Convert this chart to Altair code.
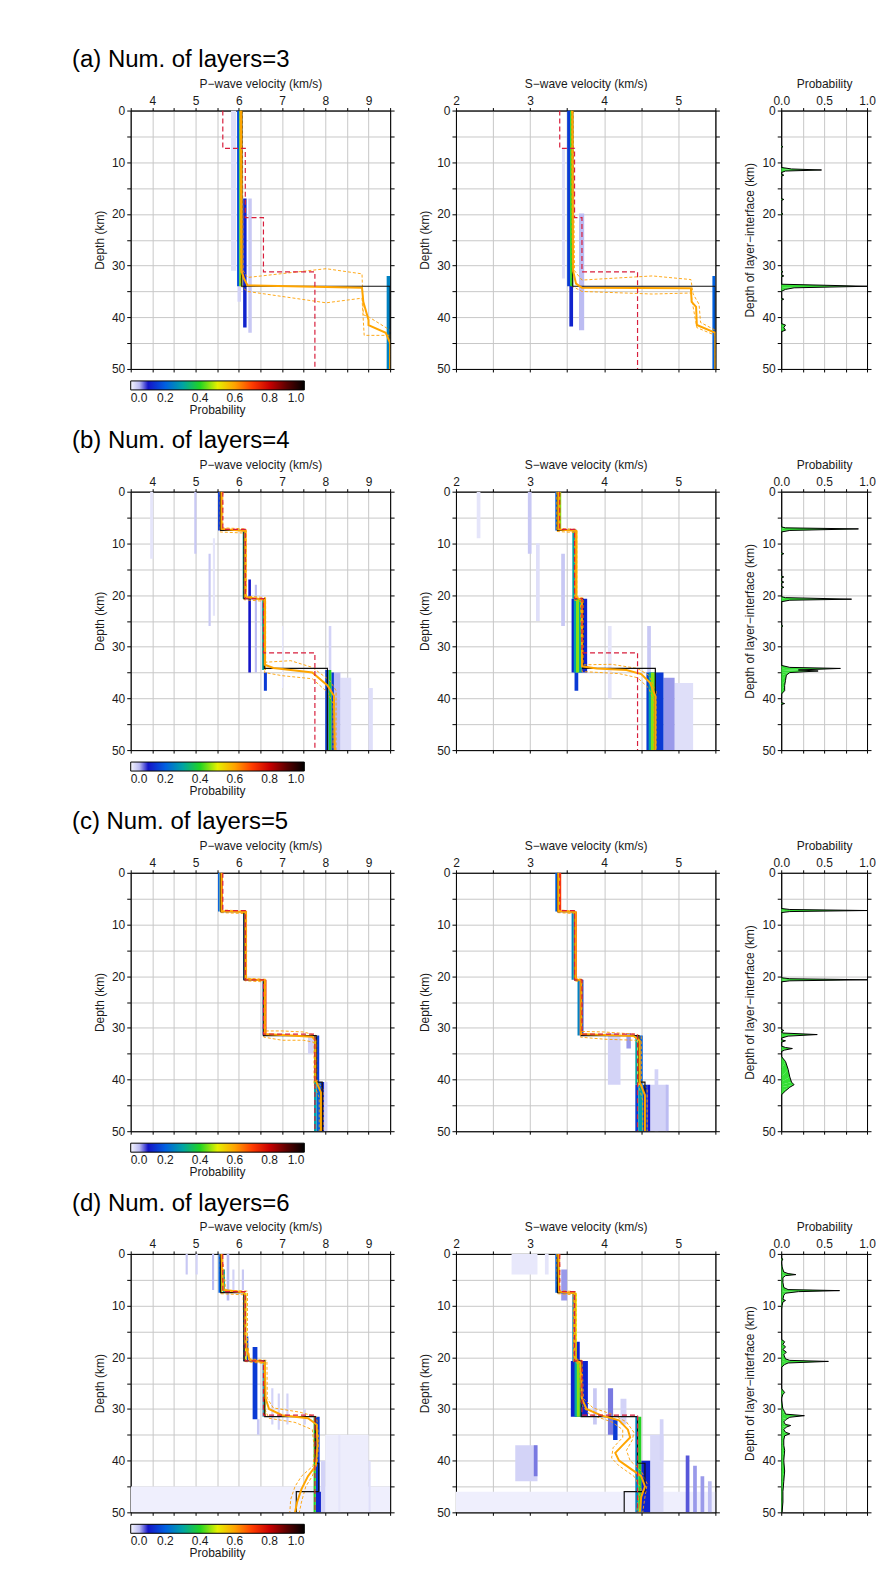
import altair as alt
import pandas as pd

FONT = "Liberation Sans"
TXT = "#1a1a1a"

# ---------------- axes / scales ----------------
P_DOMAIN = [3.5, 9.5]
S_DOMAIN = [2.0, 5.5]
Z_DOMAIN = [0, 50]
P_TICKS = [3.5, 4.0, 4.5, 5.0, 5.5, 6.0, 6.5, 7.0, 7.5, 8.0, 8.5, 9.0, 9.5]
S_TICKS = [2.0, 2.5, 3.0, 3.5, 4.0, 4.5, 5.0, 5.5]
Z_TICKS = [0, 5, 10, 15, 20, 25, 30, 35, 40, 45, 50]
PR_TICKS = [0.0, 0.25, 0.5, 0.75, 1.0]

PROB_STOPS = [0.0, 0.05, 0.1, 0.2, 0.3, 0.4, 0.5, 0.6, 0.7, 0.8, 0.9, 1.0]
PROB_COLORS = ["#f6f6fe", "#bcbcf2", "#1414c8", "#0060e0", "#00a4a4", "#22d422",
               "#e6f000", "#ffa200", "#ff3c00", "#c80000", "#5a0000", "#000000"]
LEGEND_VALUES = [0.0, 0.2, 0.4, 0.6, 0.8, 1.0]

ROW_TITLES = ["(a) Num. of layers=3", "(b) Num. of layers=4",
              "(c) Num. of layers=5", "(d) Num. of layers=6"]

# reference model (red dashed)
REF_P = [5.63, 6.15, 6.57, 7.76]
REF_S = [3.40, 3.60, 3.70, 4.45]
REF_Z = [7.3, 20.7, 31.2]

# best models (black): layer velocities and interface depths
A_BEST_P = [6.07, 9.5]
A_BEST_S = [3.575, 5.5]
A_BEST_Z = [34.0]
B_BEST_P = [5.58, 6.12, 6.59, 8.05]
B_BEST_S = [3.37, 3.62, 3.71, 4.69]
B_BEST_Z = [7.5, 20.7, 34.2]
C_BEST_P = [5.58, 6.12, 6.57, 7.79, 7.93]
C_BEST_S = [3.37, 3.60, 3.69, 4.47, 4.55]
C_BEST_Z = [7.5, 20.7, 31.5, 40.5]
D_BEST_P = [5.58, 6.12, 6.60, 7.77, 7.85, 7.33]
D_BEST_S = [3.37, 3.60, 3.69, 4.45, 4.55, 4.27]
D_BEST_Z = [7.5, 20.7, 31.5, 40.5, 46.0]

# mean (orange solid) and mean +/- std (orange dashed): (velocity, depth)
A_P_MEAN = [(6.05, 0), (6.06, 31), (6.12, 32.5), (6.2, 33.8), (8.85, 34.3), (8.88, 37), (9.0, 40.5), (9.0, 41.5), (9.4, 43), (9.5, 45), (9.5, 50)]
A_P_UP = [(6.08, 0), (6.1, 31), (6.2, 32.3), (8.02, 30.6), (8.85, 31.6), (8.88, 39.5), (9.02, 40), (9.5, 42.5), (9.5, 50)]
A_P_LO = [(6.03, 0), (6.05, 34), (6.2, 35), (8.02, 37.2), (8.85, 36.3), (8.9, 43.5), (9.5, 43.5), (9.5, 50)]
A_S_MEAN = [(3.57, 0), (3.58, 31), (3.62, 33.5), (3.7, 34.3), (5.17, 34.4), (5.18, 37), (5.24, 38), (5.25, 41.5), (5.5, 43), (5.5, 50)]
A_S_UP = [(3.58, 0), (3.6, 31), (3.7, 32.8), (4.65, 32.0), (5.17, 32.7), (5.2, 35.5), (5.28, 37.5), (5.3, 41), (5.5, 42.5), (5.5, 50)]
A_S_LO = [(3.56, 0), (3.57, 34), (3.7, 35), (4.65, 35.5), (5.17, 35.3), (5.2, 38), (5.25, 42), (5.5, 43.5), (5.5, 50)]

B_P_MEAN = [(5.6, 0), (5.6, 7.2), (6.15, 7.6), (6.15, 20.4), (6.6, 20.9), (6.6, 33.5), (6.8, 34.1), (7.7, 35.0), (8.05, 37.5), (8.2, 39.5), (8.22, 50)]
B_P_UP = [(5.63, 0), (5.63, 7.0), (6.17, 7.2), (6.17, 20.2), (6.62, 20.5), (6.62, 33), (7.2, 32.7), (7.7, 34), (8.1, 36.5), (8.25, 38.5), (8.25, 50)]
B_P_LO = [(5.57, 0), (5.57, 7.8), (6.12, 8.0), (6.12, 20.9), (6.57, 21.2), (6.6, 35), (7.0, 35.6), (7.7, 36.2), (8.05, 38.8), (8.18, 41), (8.18, 50)]
B_S_MEAN = [(3.38, 0), (3.38, 7.3), (3.62, 7.6), (3.62, 20.5), (3.7, 20.9), (3.7, 33.8), (3.9, 34.2), (4.3, 34.5), (4.5, 35.3), (4.62, 37), (4.69, 39.5), (4.69, 50)]
B_S_UP = [(3.4, 0), (3.4, 7.1), (3.63, 7.3), (3.63, 20.3), (3.72, 20.6), (3.72, 33.5), (4.1, 33.4), (4.45, 34.2), (4.6, 35.5), (4.7, 38.5), (4.7, 50)]
B_S_LO = [(3.36, 0), (3.36, 7.7), (3.6, 7.9), (3.6, 21), (3.68, 21.2), (3.7, 34.8), (4.2, 35.2), (4.45, 36), (4.6, 38), (4.67, 40.5), (4.67, 50)]

C_P_MEAN = [(5.6, 0), (5.6, 7.4), (6.16, 7.6), (6.16, 20.6), (6.6, 20.8), (6.6, 31.2), (7.7, 31.7), (7.77, 32.5), (7.77, 40), (7.9, 42.5), (7.9, 50)]
C_P_UP = [(5.62, 0), (5.62, 7.2), (6.18, 7.4), (6.18, 20.4), (6.62, 20.6), (6.62, 30.6), (7.0, 30.6), (7.5, 30.8), (7.8, 31.5), (7.8, 40), (7.95, 42), (7.95, 50)]
C_P_LO = [(5.58, 0), (5.58, 7.7), (6.14, 7.9), (6.14, 20.9), (6.58, 21.1), (6.58, 31.8), (7.0, 32.4), (7.5, 32.4), (7.74, 32.8), (7.74, 41), (7.86, 43.5), (7.86, 50)]
C_S_MEAN = [(3.38, 0), (3.38, 7.4), (3.61, 7.6), (3.61, 20.6), (3.69, 20.8), (3.69, 31.2), (4.4, 31.6), (4.48, 32.5), (4.48, 40.5), (4.55, 43), (4.55, 50)]
C_S_UP = [(3.39, 0), (3.39, 7.2), (3.62, 7.4), (3.62, 20.4), (3.7, 20.6), (3.7, 30.7), (4.0, 30.8), (4.4, 31.2), (4.5, 31.6), (4.5, 40), (4.58, 42), (4.58, 50)]
C_S_LO = [(3.37, 0), (3.37, 7.7), (3.6, 7.9), (3.6, 20.9), (3.68, 21.1), (3.68, 31.8), (4.0, 32.2), (4.42, 32.4), (4.46, 33), (4.46, 41), (4.52, 44), (4.52, 50)]

D_P_MEAN = [(5.6, 0), (5.62, 4), (5.65, 7), (6.1, 7.4), (6.15, 8), (6.15, 17), (6.2, 19), (6.25, 20.5), (6.6, 21), (6.62, 28), (6.7, 30), (7.0, 31.2), (7.6, 31.8), (7.8, 33), (7.82, 37), (7.78, 41), (7.6, 43), (7.45, 45.5), (7.35, 48), (7.3, 50)]
D_P_UP = [(5.62, 0), (5.66, 4), (5.7, 7), (6.2, 7.2), (6.2, 17), (6.25, 20.3), (6.65, 20.6), (6.66, 28), (6.8, 29.8), (7.4, 30.6), (7.8, 31.5), (7.85, 36), (7.82, 40), (7.7, 43), (7.55, 45), (7.45, 48), (7.4, 50)]
D_P_LO = [(5.57, 0), (5.58, 7.7), (6.1, 7.9), (6.12, 20.8), (6.58, 21.2), (6.6, 30), (6.7, 31.8), (7.3, 32.6), (7.7, 34), (7.75, 38), (7.72, 41), (7.45, 43), (7.3, 45), (7.2, 47.5), (7.18, 50)]
D_S_MEAN = [(3.38, 0), (3.39, 7.3), (3.6, 7.6), (3.6, 20.5), (3.68, 21), (3.7, 28), (3.76, 30), (3.95, 31.2), (4.2, 32.2), (4.32, 34), (4.35, 35.5), (4.25, 37), (4.15, 38.5), (4.2, 40), (4.35, 41.5), (4.5, 43), (4.55, 45), (4.5, 47), (4.48, 50)]
D_S_UP = [(3.4, 0), (3.4, 7.1), (3.62, 7.3), (3.62, 20.3), (3.7, 20.6), (3.72, 28), (3.85, 29.8), (4.1, 31), (4.3, 32.5), (4.4, 34.5), (4.38, 36), (4.3, 38), (4.35, 40), (4.5, 42), (4.58, 44.5), (4.55, 47), (4.52, 50)]
D_S_LO = [(3.36, 0), (3.37, 7.7), (3.58, 7.9), (3.59, 20.9), (3.67, 21.3), (3.68, 29), (3.8, 31), (4.1, 32.5), (4.25, 34), (4.25, 35.5), (4.12, 37.5), (4.1, 39.5), (4.2, 41), (4.4, 43), (4.5, 45.5), (4.45, 48), (4.44, 50)]

# posterior probability cells: (v_left, v_right, z_top, z_bottom, probability)
A_P_CELLS = [(5.82, 5.94, 0, 31, 0.02), (5.96, 6.01, 0, 34, 0.18), (6.01, 6.05, 0, 34, 0.42),
             (6.05, 6.08, 0, 34, 0.55), (6.1, 6.18, 17, 42, 0.12), (6.22, 6.3, 17, 43, 0.04),
             (5.97, 6.05, 34, 37, 0.03), (9.42, 9.5, 32, 50, 0.25)]
A_S_CELLS = [(3.43, 3.47, 7.3, 32.5, 0.02), (3.5, 3.54, 0, 34, 0.15), (3.54, 3.58, 0, 34, 0.4),
             (3.53, 3.58, 33.7, 41.8, 0.12), (3.66, 3.73, 19.9, 42.5, 0.05), (5.46, 5.5, 32, 50, 0.2)]
B_P_CELLS = [(3.95, 4.02, 0, 13, 0.015), (4.97, 5.02, 0, 12, 0.04), (5.3, 5.35, 12, 26, 0.04),
             (5.4, 5.45, 9, 24, 0.015), (5.52, 5.58, 0, 7.5, 0.15), (5.58, 5.62, 0, 7.5, 0.5),
             (6.09, 6.14, 7.5, 20.7, 0.3), (6.14, 6.18, 7.5, 20.7, 0.6), (6.54, 6.59, 20.7, 34.5, 0.3),
             (6.59, 6.63, 20.7, 34.5, 0.6), (6.22, 6.28, 17, 35, 0.1), (6.37, 6.42, 18, 35, 0.05),
             (6.5, 6.55, 20, 26, 0.03), (6.58, 6.65, 35, 38.5, 0.15), (7.0, 7.03, 26, 38, 0.015),
             (8.0, 8.08, 34.5, 50, 0.15), (8.08, 8.14, 34.5, 50, 0.4), (8.14, 8.2, 35, 50, 0.15),
             (8.2, 8.35, 35, 50, 0.05), (8.35, 8.6, 36, 50, 0.02), (8.08, 8.14, 26, 34.5, 0.03),
             (9.0, 9.1, 38, 50, 0.02)]
B_S_CELLS = [(2.28, 2.33, 0, 9, 0.015), (2.97, 3.02, 0, 12, 0.04), (3.08, 3.13, 10, 25, 0.02),
             (3.42, 3.47, 12, 26, 0.04), (3.34, 3.38, 0, 7.5, 0.2), (3.38, 3.42, 0, 7.5, 0.45),
             (3.57, 3.61, 7.5, 20.7, 0.3), (3.61, 3.64, 7.5, 20.7, 0.55), (3.56, 3.77, 20.7, 35, 0.12),
             (3.59, 3.7, 20.7, 35, 0.3), (3.62, 3.66, 20.7, 35, 0.45), (3.6, 3.65, 35, 38.5, 0.15),
             (4.05, 4.1, 26, 40, 0.015), (4.58, 4.63, 26, 35, 0.04), (4.57, 4.8, 35, 50, 0.15),
             (4.6, 4.7, 35, 50, 0.3), (4.63, 4.68, 35, 50, 0.45), (4.8, 4.95, 36, 50, 0.06),
             (4.95, 5.2, 37, 50, 0.02)]
C_P_CELLS = [(5.52, 5.56, 0, 7.5, 0.2), (5.56, 5.6, 0, 7.5, 0.5), (5.6, 5.63, 0, 7.5, 0.75),
             (6.1, 6.13, 7.5, 20.7, 0.2), (6.13, 6.16, 7.5, 20.7, 0.45), (6.16, 6.18, 7.5, 20.7, 0.75),
             (6.55, 6.58, 20.7, 31.5, 0.2), (6.58, 6.61, 20.7, 31.5, 0.45), (6.61, 6.64, 20.7, 31.5, 0.75),
             (7.6, 7.75, 31.5, 35, 0.03), (7.74, 7.78, 31.5, 40.5, 0.4), (7.78, 7.86, 31.5, 40.5, 0.15),
             (7.74, 7.8, 40.5, 50, 0.3), (7.8, 7.9, 40.5, 50, 0.2), (7.9, 7.97, 40.5, 50, 0.12),
             (7.97, 8.05, 40.5, 50, 0.03)]
C_S_CELLS = [(3.34, 3.37, 0, 7.5, 0.2), (3.37, 3.4, 0, 7.5, 0.45), (3.4, 3.42, 0, 7.5, 0.7),
             (3.56, 3.59, 7.5, 20.7, 0.25), (3.59, 3.61, 7.5, 20.7, 0.5), (3.61, 3.63, 7.5, 20.7, 0.7),
             (3.64, 3.67, 20.7, 31.5, 0.25), (3.67, 3.69, 20.7, 31.5, 0.7), (3.69, 3.72, 20.7, 31.5, 0.15),
             (4.42, 4.45, 31.5, 41, 0.3), (4.45, 4.48, 31.5, 41, 0.5), (4.48, 4.52, 31.5, 41, 0.2),
             (4.42, 4.46, 41, 50, 0.15), (4.46, 4.52, 41, 50, 0.3), (4.52, 4.58, 41, 50, 0.15),
             (4.58, 4.62, 41, 50, 0.1), (4.05, 4.22, 31, 41, 0.03), (4.3, 4.36, 31, 34, 0.06),
             (4.6, 4.85, 41, 50, 0.03), (4.83, 4.87, 41, 50, 0.05), (4.68, 4.73, 38, 50, 0.03)]
D_P_CELLS = [(3.5, 9.5, 45, 50, 0.006), (8.0, 9.0, 35, 50, 0.008), (4.77, 4.82, 0, 4, 0.04),
             (5.0, 5.05, 0, 4, 0.03), (5.38, 5.43, 0, 7, 0.05), (5.72, 5.78, 0, 9, 0.05),
             (5.85, 5.9, 3, 7, 0.03), (6.07, 6.12, 3, 7, 0.04), (5.53, 5.58, 0, 7.5, 0.2),
             (5.58, 5.62, 0, 7.5, 0.5), (5.63, 5.68, 3, 7.5, 0.3), (6.1, 6.14, 7.5, 20.7, 0.2),
             (6.14, 6.18, 7.5, 20.7, 0.5), (6.18, 6.22, 16, 20.7, 0.15), (6.32, 6.43, 18, 32, 0.15),
             (6.42, 6.48, 32, 35, 0.04), (6.55, 6.58, 20.7, 31.5, 0.25), (6.58, 6.62, 20.7, 31.5, 0.5),
             (6.75, 6.8, 26, 33, 0.03), (6.9, 6.95, 27, 34, 0.03), (7.1, 7.15, 27, 33, 0.03),
             (7.5, 7.55, 30, 33, 0.03), (7.73, 7.78, 31.5, 50, 0.4), (7.78, 7.87, 31.5, 46, 0.15),
             (7.78, 7.9, 46, 50, 0.12), (7.9, 8.0, 40, 50, 0.03), (8.3, 8.35, 35, 50, 0.015),
             (9.0, 9.05, 40, 50, 0.02)]
D_S_CELLS = [(2.0, 5.5, 46, 50, 0.006), (2.75, 3.1, 0, 4, 0.012), (3.2, 3.25, 0, 4, 0.015),
             (3.42, 3.5, 3, 9, 0.06), (3.34, 3.37, 0, 7.5, 0.2), (3.37, 3.4, 0, 7.5, 0.45),
             (3.57, 3.6, 7.5, 20.7, 0.25), (3.6, 3.63, 7.5, 20.7, 0.5), (3.62, 3.67, 17, 21, 0.12),
             (3.55, 3.78, 20.7, 31.5, 0.12), (3.6, 3.7, 20.7, 31.5, 0.3), (3.63, 3.67, 20.7, 31.5, 0.45),
             (3.85, 3.9, 26, 33, 0.04), (4.05, 4.12, 26, 35, 0.07), (4.12, 4.18, 32, 36, 0.15),
             (4.22, 4.3, 28, 33, 0.03), (4.42, 4.46, 31.5, 50, 0.25), (4.46, 4.5, 31.5, 50, 0.4),
             (4.5, 4.62, 40, 50, 0.12), (4.62, 4.8, 35, 50, 0.025), (4.75, 4.8, 32, 40, 0.03),
             (5.1, 5.15, 39, 50, 0.08), (5.2, 5.25, 41, 50, 0.06), (5.3, 5.35, 43, 50, 0.06),
             (5.4, 5.45, 44, 50, 0.05), (2.8, 3.1, 37, 44, 0.03), (3.05, 3.1, 37, 43, 0.07)]

# interface-depth probability: (depth, probability)
A_IFACE = [(0, 0), (6.8, 0), (7.0, 0.02), (7.2, 0), (11.0, 0), (11.3, 0.12), (11.5, 0.47), (11.7, 0.05),
           (12.0, 0), (12.3, 0), (12.5, 0.03), (12.7, 0), (17.0, 0), (17.2, 0.03), (17.4, 0),
           (19.8, 0), (20.0, 0.02), (20.2, 0), (31.0, 0), (31.2, 0.02), (31.4, 0), (31.8, 0),
           (32.0, 0.03), (32.2, 0), (33.6, 0), (34.0, 1.0), (34.3, 0.15), (34.6, 0.05), (35.0, 0),
           (36.3, 0), (36.5, 0.03), (36.7, 0), (41.2, 0), (41.5, 0.05), (42.0, 0.03), (42.5, 0.05),
           (42.8, 0), (50, 0)]
B_IFACE = [(0, 0), (6.8, 0), (7.0, 0.05), (7.2, 0.9), (7.5, 0.1), (7.8, 0), (11.8, 0), (12.0, 0.03),
           (12.2, 0), (16.3, 0), (16.5, 0.03), (16.7, 0), (17.3, 0), (17.5, 0.03), (17.7, 0),
           (18.3, 0), (18.5, 0.03), (18.7, 0), (20.3, 0), (20.5, 0.05), (20.8, 0.82), (21.0, 0.1),
           (21.3, 0), (25.8, 0), (26.0, 0.02), (26.2, 0), (33.6, 0), (34.0, 0.1), (34.2, 0.69),
           (34.5, 0.2), (34.7, 0.43), (35.0, 0.1), (35.5, 0.06), (36.5, 0.05), (37.5, 0.04),
           (38.5, 0.04), (39.2, 0), (40.8, 0), (41.0, 0.04), (41.2, 0), (50, 0)]
C_IFACE = [(0, 0), (6.9, 0), (7.1, 0.1), (7.3, 1.0), (7.5, 0.1), (7.7, 0), (20.3, 0), (20.5, 0.1),
           (20.7, 1.0), (20.9, 0.1), (21.1, 0), (30.3, 0), (30.5, 0.03), (30.8, 0), (31.0, 0.02),
           (31.3, 0.42), (31.6, 0.08), (32.0, 0), (32.3, 0), (32.5, 0.05), (32.8, 0), (33.5, 0),
           (33.8, 0.05), (34.0, 0.13), (34.3, 0.04), (34.6, 0), (35.5, 0), (36.5, 0.05), (38.0, 0.08),
           (39.5, 0.1), (40.5, 0.12), (41.0, 0.15), (41.5, 0.1), (42.2, 0.05), (43.0, 0), (50, 0)]
D_IFACE = [(0, 0), (0.8, 0), (1.0, 0.02), (1.5, 0), (2.5, 0.01), (3.5, 0.03), (3.8, 0.08), (4.0, 0.17),
           (4.2, 0.05), (4.6, 0.02), (5.5, 0.02), (6.5, 0.03), (6.9, 0.08), (7.1, 0.68), (7.3, 0.2),
           (7.6, 0.05), (8.0, 0.03), (8.8, 0.02), (9.0, 0.05), (9.3, 0.02), (10.0, 0.01), (11.0, 0),
           (16.5, 0), (17.0, 0.04), (17.5, 0.02), (18.0, 0.05), (18.5, 0.02), (19.0, 0.06), (19.5, 0.03),
           (20.3, 0.05), (20.6, 0.1), (20.8, 0.55), (21.1, 0.08), (21.4, 0.04), (22.0, 0), (26.0, 0),
           (26.8, 0.04), (27.2, 0.02), (28.0, 0), (30.0, 0.02), (30.5, 0.04), (31.0, 0.05), (31.3, 0.27),
           (31.6, 0.1), (32.0, 0.06), (32.5, 0.03), (33.0, 0.05), (33.2, 0.11), (33.5, 0.06), (34.0, 0.03),
           (34.5, 0.05), (34.8, 0.1), (35.2, 0.04), (36.0, 0.03), (37.0, 0.03), (38.0, 0.04), (40.0, 0.03),
           (42.0, 0.04), (44.0, 0.03), (46.0, 0.02), (48.0, 0.02), (50.0, 0.01)]

ROWS = [
    dict(title=ROW_TITLES[0], pc=A_P_CELLS, sc=A_S_CELLS, bp=A_BEST_P, bs=A_BEST_S, bz=A_BEST_Z,
         pm=A_P_MEAN, pu=A_P_UP, pl=A_P_LO, sm=A_S_MEAN, su=A_S_UP, sl=A_S_LO, iface=A_IFACE),
    dict(title=ROW_TITLES[1], pc=B_P_CELLS, sc=B_S_CELLS, bp=B_BEST_P, bs=B_BEST_S, bz=B_BEST_Z,
         pm=B_P_MEAN, pu=B_P_UP, pl=B_P_LO, sm=B_S_MEAN, su=B_S_UP, sl=B_S_LO, iface=B_IFACE),
    dict(title=ROW_TITLES[2], pc=C_P_CELLS, sc=C_S_CELLS, bp=C_BEST_P, bs=C_BEST_S, bz=C_BEST_Z,
         pm=C_P_MEAN, pu=C_P_UP, pl=C_P_LO, sm=C_S_MEAN, su=C_S_UP, sl=C_S_LO, iface=C_IFACE),
    dict(title=ROW_TITLES[3], pc=D_P_CELLS, sc=D_S_CELLS, bp=D_BEST_P, bs=D_BEST_S, bz=D_BEST_Z,
         pm=D_P_MEAN, pu=D_P_UP, pl=D_P_LO, sm=D_S_MEAN, su=D_S_UP, sl=D_S_LO, iface=D_IFACE),
]

PW, PH, QW = 260, 259, 86

CSCALE = alt.Scale(domain=PROB_STOPS, range=PROB_COLORS, interpolate="rgb", clamp=True)


def step_points(vals, ifaces):
    pts = [(vals[0], 0.0)]
    for k, z in enumerate(ifaces):
        pts.append((vals[k], z))
        pts.append((vals[k + 1], z))
    pts.append((vals[-1], 50.0))
    return pts


def path_df(points):
    return pd.DataFrame({"v": [p[0] for p in points], "z": [p[1] for p in points],
                         "i": list(range(len(points)))})


def line_layer(points, xs, ys, color, width, dash=None):
    mk = dict(color=color, strokeWidth=width, clip=True)
    if dash:
        mk["strokeDash"] = dash
    return alt.Chart(path_df(points)).mark_line(**mk).encode(
        x=alt.X("v:Q", scale=xs, axis=None),
        y=alt.Y("z:Q", scale=ys, axis=None),
        order="i:Q")


def vel_panel(cells, ref, best, bz, mean, up, lo, domain, ticks, title, with_legend):
    xs = alt.Scale(domain=domain, nice=False, zero=False)
    ys = alt.Scale(domain=Z_DOMAIN, nice=False, zero=False, reverse=True)
    xaxis = alt.Axis(orient="top", values=ticks, format=".0f", title=title, grid=True,
                     labelExpr="datum.value % 1 == 0 ? datum.label : ''")
    yaxis = alt.Axis(orient="left", values=Z_TICKS, format="d", title="Depth (km)", grid=True,
                     labelExpr="datum.value % 10 == 0 ? datum.label : ''")
    if with_legend:
        legend = alt.Legend(orient="bottom", direction="horizontal", gradientLength=174,
                            gradientThickness=9, title="Probability", titleOrient="bottom",
                            titleAnchor="middle", values=LEGEND_VALUES, format=".1f",
                            labelAlign="center", labelOverlap=False, offset=8,
                            gradientStrokeColor="black", gradientStrokeWidth=1,
                            labelFontSize=12, titleFontSize=12, titleFontWeight="normal",
                            titlePadding=1, labelOffset=3, labelColor=TXT, titleColor=TXT)
    else:
        legend = None
    df = pd.DataFrame(cells, columns=["v0", "v1", "z0", "z1", "p"]).sort_values("p", kind="stable")
    heat = alt.Chart(df).mark_rect(clip=True).encode(
        x=alt.X("v0:Q", scale=xs, axis=xaxis), x2="v1:Q",
        y=alt.Y("z0:Q", scale=ys, axis=yaxis), y2="z1:Q",
        color=alt.Color("p:Q", scale=CSCALE, legend=legend))
    frame = alt.Chart(df).mark_point(opacity=0, size=1).encode(
        x=alt.X("v0:Q", scale=xs, axis=alt.Axis(orient="bottom", values=ticks, labels=False,
                                                 title=None, grid=False)),
        y=alt.Y("z0:Q", scale=ys, axis=alt.Axis(orient="right", values=Z_TICKS, labels=False,
                                                 title=None, grid=False)))
    layers = [
        heat, frame,
        line_layer(up, xs, ys, "#ffa000", 0.9, [3, 2]),
        line_layer(lo, xs, ys, "#ffa000", 0.9, [3, 2]),
        line_layer(step_points(best, bz), xs, ys, "#111111", 1.2),
        line_layer(mean, xs, ys, "#ffa500", 2.0),
        line_layer(step_points(ref, REF_Z), xs, ys, "#d81e3c", 1.2, [5, 3]),
    ]
    return alt.layer(*layers).resolve_axis(x="independent", y="independent").properties(
        width=PW, height=PH)


def prob_panel(iface):
    df = pd.DataFrame({"z": [p[0] for p in iface], "q": [p[1] for p in iface],
                       "i": list(range(len(iface)))})
    xs = alt.Scale(domain=[0, 1], nice=False)
    ys = alt.Scale(domain=Z_DOMAIN, nice=False, zero=False, reverse=True)
    xaxis = alt.Axis(orient="top", values=PR_TICKS, format=".1f", title="Probability", grid=True,
                     labelExpr="datum.value % 0.5 == 0 ? datum.label : ''")
    yaxis = alt.Axis(orient="left", values=Z_TICKS, format="d",
                     title="Depth of layer\u2212interface (km)", grid=True,
                     labelExpr="datum.value % 10 == 0 ? datum.label : ''")
    area = alt.Chart(df).mark_area(orient="horizontal", color="#35e035", clip=True).encode(
        x=alt.X("q:Q", scale=xs, axis=xaxis),
        y=alt.Y("z:Q", scale=ys, axis=yaxis),
        order="i:Q")
    frame = alt.Chart(df).mark_point(opacity=0, size=1).encode(
        x=alt.X("q:Q", scale=xs, axis=alt.Axis(orient="bottom", values=PR_TICKS, labels=False,
                                                title=None, grid=False)),
        y=alt.Y("z:Q", scale=ys, axis=alt.Axis(orient="right", values=Z_TICKS, labels=False,
                                                title=None, grid=False)))
    outline = alt.Chart(df).mark_line(color="black", strokeWidth=1, clip=True).encode(
        x=alt.X("q:Q", scale=xs, axis=None),
        y=alt.Y("z:Q", scale=ys, axis=None),
        order="i:Q")
    return alt.layer(area, frame, outline).resolve_axis(x="independent", y="independent").properties(
        width=QW, height=PH)


rows = []
for r in ROWS:
    p = vel_panel(r["pc"], REF_P, r["bp"], r["bz"], r["pm"], r["pu"], r["pl"], P_DOMAIN, P_TICKS,
                  "P\u2212wave velocity (km/s)", True)
    s = vel_panel(r["sc"], REF_S, r["bs"], r["bz"], r["sm"], r["su"], r["sl"], S_DOMAIN, S_TICKS,
                  "S\u2212wave velocity (km/s)", False)
    q = prob_panel(r["iface"])
    row = alt.hconcat(p, s, q, spacing=23).resolve_scale(color="independent").properties(
        title=alt.TitleParams(r["title"], anchor="start", fontSize=24, font=FONT,
                              fontWeight="normal", color="black", dx=-21, offset=5))
    rows.append(row)

chart = alt.vconcat(*rows, spacing=12).resolve_scale(color="independent").properties(
    padding={"left": 64, "top": 38, "right": 0, "bottom": 5}
).configure_axis(
    labelFont=FONT, titleFont=FONT, labelFontSize=12, titleFontSize=12, titleFontWeight="normal",
    labelColor=TXT, titleColor=TXT, domainColor="black", tickColor="black", gridColor="#c8c8c8",
    labelFlush=False
).configure_axisX(
    tickSize=3, labelPadding=0, titlePadding=4
).configure_axisY(
    tickSize=4, labelPadding=2, titlePadding=5
).configure_legend(
    labelFont=FONT, titleFont=FONT
).configure_view(
    stroke="black", strokeWidth=1
).configure_title(font=FONT)

chart.save("out.html", embed_options={"renderer": "svg", "actions": False})
